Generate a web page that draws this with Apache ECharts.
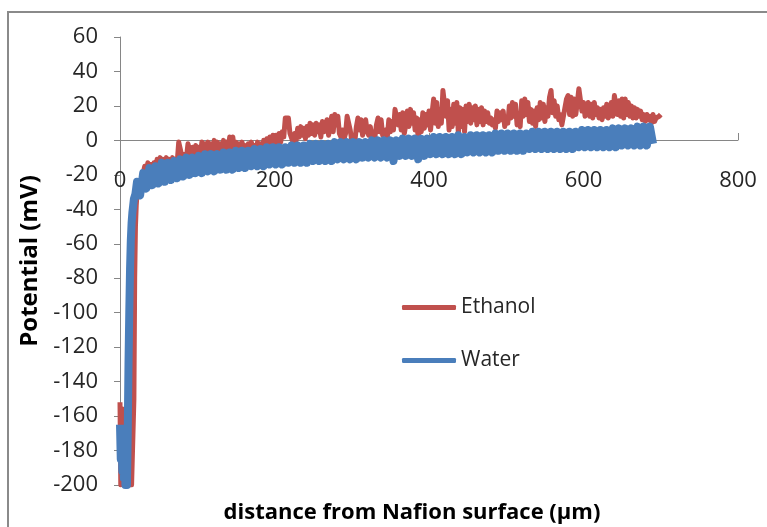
<!DOCTYPE html>
<html>
<head>
<meta charset="utf-8">
<script src="https://cdn.jsdelivr.net/npm/echarts@6/dist/echarts.min.js"></script>
<style>
html, body { margin: 0; padding: 0; background: #fff; }
#chart { width: 767px; height: 527px; }
</style>
</head>
<body>
<div id="chart"></div>
<script>
// [distance (µm), potential (mV)]
const ethanol = [
	[0,-152],[1,-200],[2,-158],[4,-156],[5,-160],[6,-195],[8,-200],[11,-200],[13,-192],[15,-200],[17,-200],[18,-150],[19,-80],[20,-50],[21,-38],[22,-31],[24,-27],[26,-24],[28,-22],[30,-19],
	[32,-15],[34,-19],[36,-13],[38,-18],[40,-14],[42,-19],[44,-13],[46,-17],[48,-11],[50,-16],[52,-10],[54,-15],[56,-11],[58,-16],[60,-10],[62,-15],[64,-11],[66,-15],[68,-10],[70,-14],
	[72,-11],[74,-13],[76,-1],[78,0],[80,-9],[82,-12],[84,-8],[86,-10],[88,-2],[90,-3],[92,-9],[94,-4],[96,-10],[98,-3],[100,-8],[102,-4],[104,-9],[106,-1],[108,-7],[110,-2],
	[112,-8],[114,-1],[116,-6],[118,-2],[120,-8],[122,0],[124,-6],[126,-1],[128,-7],[130,-2],[132,-6],[134,0],[136,-5],[138,-1],[140,-6],[142,2],[144,-4],[146,2],[148,-5],[150,-1],
	[152,-6],[154,-2],[156,-7],[158,-1],[160,-6],[162,-3],[164,-7],[166,-2],[168,-6],[170,-1],[172,-5],[174,-3],[176,-6],[178,-1],[180,-5],[182,-2],[184,-6],[186,0],[188,-4],[190,1],
	[192,-4],[194,2],[196,-3],[198,3],[200,-3],[202,3],[204,-2],[206,4],[208,-1],[210,5],[212,2],[214,13],[216,12],[218,13],[220,4],[222,3],[224,-1],[226,4],[228,0],[230,7],
	[232,2],[234,8],[236,3],[238,7],[240,1],[242,8],[244,3],[246,10],[248,4],[250,9],[252,3],[254,10],[256,5],[258,9],[260,2],[262,11],[264,5],[266,4],[268,12],[270,3],
	[272,8],[274,14],[276,5],[278,15],[280,9],[282,14],[284,4],[286,2],[288,6],[290,1],[292,4],[294,14],[296,15],[298,6],[300,0],[302,3],[304,-1],[306,8],[308,13],[310,6],
	[312,12],[314,3],[316,8],[318,12],[320,5],[322,3],[324,8],[326,2],[328,4],[330,2],[332,9],[334,13],[336,5],[338,12],[340,3],[342,2],[344,6],[346,2],[348,12],[350,5],
	[352,11],[354,6],[356,18],[358,19],[360,9],[362,15],[364,6],[366,16],[368,4],[370,9],[372,17],[374,8],[376,18],[378,10],[380,16],[382,6],[384,13],[386,1],[388,12],[390,5],
	[392,16],[394,7],[396,15],[398,9],[400,17],[402,6],[404,16],[406,24],[408,10],[410,22],[412,8],[414,18],[416,10],[418,29],[420,30],[422,14],[424,23],[426,6],[428,18],[430,8],
	[432,21],[434,10],[436,22],[438,4],[440,19],[442,8],[444,18],[446,5],[448,20],[450,11],[452,21],[454,10],[456,19],[458,12],[460,20],[462,9],[464,18],[466,11],[468,19],[470,9],
	[472,17],[474,11],[476,16],[478,10],[480,13],[482,9],[484,12],[486,7],[488,17],[490,11],[492,16],[494,12],[496,17],[498,8],[500,13],[502,10],[504,20],[506,13],[508,22],[510,14],
	[512,21],[514,9],[516,12],[518,8],[520,23],[522,14],[524,24],[526,15],[528,22],[530,11],[532,18],[534,10],[536,17],[538,8],[540,19],[542,12],[544,22],[546,13],[548,21],[550,11],
	[552,19],[554,14],[556,25],[558,29],[560,16],[562,23],[564,14],[566,20],[568,12],[570,15],[572,9],[574,14],[576,14],[578,24],[580,26],[582,15],[584,25],[586,14],[588,24],[590,15],
	[592,22],[594,30],[596,31],[598,17],[600,22],[602,14],[604,15],[606,22],[608,14],[610,21],[612,13],[614,22],[616,15],[618,19],[620,13],[622,18],[624,12],[626,19],[628,14],[630,21],
	[632,13],[634,15],[636,22],[638,14],[640,26],[642,25],[644,15],[646,23],[648,14],[650,24],[652,13],[654,24],[656,15],[658,22],[660,14],[662,20],[664,13],[666,19],[668,13],[670,18],
	[672,14],[674,17],[676,12],[678,15],[680,11],[682,15],[684,12],[686,14],[688,10],[690,15],[692,11],[694,13],[696,12],[698,14],[700,15]
];
const water = [
	[0,-165],[1,-185],[2,-172],[3,-192],[4,-168],[5,-196],[6,-175],[7,-200],[8,-185],[9,-200],[10,-170],[11,-130],[12,-100],[13,-75],[14,-58],[15,-48],[16,-42],[17,-38],[18,-34],[20,-31],
	[22,-24],[26,-32],[30,-19],[34,-28],[38,-16],[42,-26],[46,-15],[50,-25],[54,-13],[58,-24],[62,-13],[66,-23],[70,-12],[74,-22],[78,-11],[82,-21],[86,-10],[90,-20],[94,-10],[98,-19],
	[102,-9],[106,-19],[110,-8],[114,-18],[118,-8],[122,-18],[126,-8],[130,-17],[134,-7],[138,-17],[142,-7],[146,-17],[150,-6],[154,-16],[158,-6],[162,-16],[166,-6],[170,-15],[174,-5],[178,-15],
	[182,-5],[186,-15],[190,-4],[194,-14],[198,-4],[202,-14],[206,-4],[210,-14],[214,-4],[218,-13],[222,-3],[226,-13],[230,-3],[234,-13],[238,-3],[242,-13],[246,-2],[250,-12],[254,-2],[258,-12],
	[262,-2],[266,-12],[270,-2],[274,-12],[278,-1],[282,-11],[286,-1],[290,-11],[294,-1],[298,-11],[302,-1],[306,-11],[310,-1],[314,-10],[318,-1],[322,-10],[326,0],[330,-10],[334,0],[338,-10],
	[342,0],[346,-10],[350,0],[354,-12],[358,0],[362,-9],[366,1],[370,-9],[374,1],[378,-9],[382,1],[386,-11],[390,1],[394,-9],[398,1],[402,-8],[406,2],[410,-8],[414,2],[418,-8],
	[422,2],[426,-8],[430,2],[434,-8],[438,3],[442,-8],[446,2],[450,-7],[454,3],[458,-7],[462,3],[466,-7],[470,3],[474,-7],[478,3],[482,-7],[486,4],[490,-6],[494,4],[498,-6],
	[502,4],[506,-6],[510,4],[514,-6],[518,4],[522,-6],[526,4],[530,-5],[534,5],[538,-5],[542,5],[546,-5],[550,5],[554,-5],[558,5],[562,-5],[566,5],[570,-5],[574,5],[578,-5],
	[582,5],[586,-5],[590,5],[594,-4],[598,6],[602,-4],[606,6],[610,-4],[614,6],[618,-4],[622,6],[626,-4],[630,6],[634,-4],[638,7],[642,-4],[646,7],[650,-3],[654,7],[658,-3],
	[662,7],[666,-3],[670,8],[674,-3],[678,8],[682,-3],[686,8],[690,-2]
];
const xTicks = [0, 200, 400, 600, 800];
const yTicks = [-200, -180, -160, -140, -120, -100, -80, -60, -40, -20, 0, 20, 40, 60];

const font = 'Open Sans';
const chart = echarts.init(document.getElementById('chart'));
chart.setOption({
	animation: false,
	backgroundColor: '#fff',
	color: ['#c0504d', '#4a7ebb'],
	graphic: [
		{
			// outer chart frame, only top and left edges fall inside the picture
			type: 'rect',
			shape: { x: 8, y: 12, width: 820, height: 600 },
			style: { fill: null, stroke: '#8a8a8a', lineWidth: 2 },
			silent: true,
		},
	],
	grid: { left: 120, right: 29, top: 37, bottom: 42, outerBoundsMode: 'none', containLabel: false },
	legend: {
		orient: 'vertical',
		left: 397,
		top: 292,
		icon: 'roundRect',
		itemWidth: 54,
		itemHeight: 5,
		itemGap: 32,
		textStyle: { fontFamily: font, fontSize: 21, color: '#262626' },
		data: ['Ethanol', 'Water'],
	},
	xAxis: {
		type: 'value',
		min: xTicks[0],
		max: xTicks[xTicks.length - 1],
		interval: xTicks[1] - xTicks[0],
		// axis crosses the y axis at 0 mV: shift it up from the grid bottom
		offset: -345,
		name: 'distance from Nafion surface (µm)',
		nameLocation: 'middle',
		nameGap: 362,
		nameTextStyle: { fontFamily: font, fontSize: 22, fontWeight: 'bold', color: '#000', padding: [0, 34, 0, 0] },
		axisLine: { onZero: false, lineStyle: { color: '#868686', width: 1 } },
		axisTick: { inside: true, length: 7, lineStyle: { color: '#868686' } },
		axisLabel: { margin: 30, fontFamily: font, fontSize: 22, color: '#262626' },
		splitLine: { show: false },
	},
	yAxis: {
		type: 'value',
		min: yTicks[0],
		max: yTicks[yTicks.length - 1],
		interval: yTicks[1] - yTicks[0],
		name: 'Potential (mV)',
		nameLocation: 'middle',
		nameGap: 74,
		nameTextStyle: { fontFamily: font, fontSize: 24, fontWeight: 'bold', color: '#000' },
		axisLine: { show: true, lineStyle: { color: '#868686', width: 1 } },
		axisTick: { show: true, length: 6, lineStyle: { color: '#868686' } },
		axisLabel: { margin: 22, fontFamily: font, fontSize: 22, color: '#262626' },
		splitLine: { show: false },
	},
	series: [
		{
			name: 'Ethanol',
			type: 'line',
			data: ethanol,
			showSymbol: false,
			symbol: 'none',
			lineStyle: { width: 5, join: 'round' },
		},
		{
			name: 'Water',
			type: 'line',
			data: water,
			showSymbol: false,
			symbol: 'none',
			lineStyle: { width: 8, join: 'round' },
		},
	],
});
</script>
</body>
</html>
